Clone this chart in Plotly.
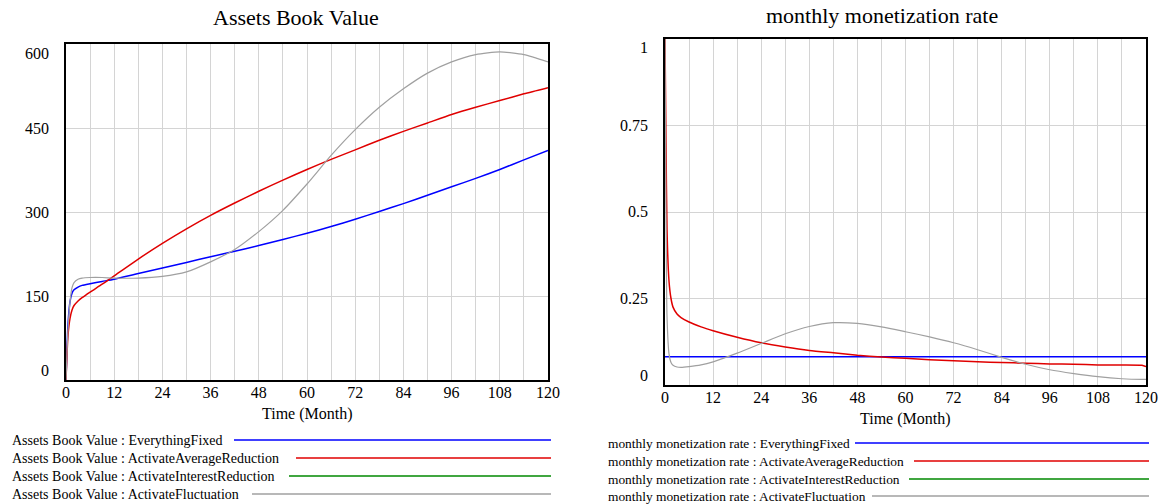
import plotly.graph_objects as go

W, H = 1166, 504
FONT = "Liberation Serif, Times New Roman, serif"

# ---------------- data ----------------
months_a = [0, 0.5, 1, 1.5, 2, 3, 4, 6, 9, 12, 18, 24, 30, 36, 42, 48, 54, 60,
            66, 72, 78, 84, 90, 96, 102, 108, 114, 120]
abv_fixed = [0, 100, 140, 155, 161, 166, 169, 172, 176, 180, 190, 200, 210, 220,
             230, 240, 251, 262, 274, 287, 301, 315, 330, 345, 360, 376, 393, 410]
abv_avg_red = [0, 80, 110, 125, 133, 141, 147, 157, 171, 186, 216, 244, 270, 294,
               316, 337, 357, 376, 394, 411, 428, 444, 459, 474, 487, 499, 511, 522]
abv_fluct = [0, 90, 140, 165, 174, 180, 182, 183, 183, 182, 182, 185, 193, 211,
             233, 265, 303, 350, 401, 447, 487, 520, 548, 568, 581, 586, 581, 568]

months_r = [0, 0.25, 0.5, 1, 1.5, 2, 3, 4, 6, 9, 12, 18, 24, 30, 36, 42, 48, 54,
            60, 66, 72, 78, 84, 90, 96, 102, 108, 114, 119, 120]
mmr_fixed = [0.082] * len(months_r)
mmr_avg_red = [1, 0.7, 0.45, 0.3, 0.25, 0.225, 0.205, 0.195, 0.182, 0.168, 0.157,
               0.138, 0.122, 0.11, 0.1, 0.093, 0.086, 0.081, 0.077, 0.073, 0.07,
               0.067, 0.065, 0.063, 0.061, 0.06, 0.058, 0.058, 0.057, 0.053]
mmr_fluct = [1, 0.5, 0.2, 0.09, 0.065, 0.057, 0.052, 0.051, 0.053, 0.058, 0.067,
             0.092, 0.12, 0.148, 0.169, 0.18, 0.178, 0.168, 0.154, 0.139, 0.122,
             0.102, 0.08, 0.06, 0.044, 0.033, 0.024, 0.018, 0.016, 0.016]

scenarios = ["EverythingFixed", "ActivateAverageReduction",
             "ActivateInterestReduction", "ActivateFluctuation"]
colors = ["#0000ff", "#e00000", "#008800", "#a0a0a0"]
x_ticks = list(range(0, 121, 12))
left_yticks = [0, 150, 300, 450, 600]
right_yticks = [0, 0.25, 0.5, 0.75, 1]
right_ytext = ["0", "0.25", "0.5", "0.75", "1"]
left_title = "Assets Book Value"
right_title = "monthly monetization rate"
x_title = "Time (Month)"


def px(x):
    return x / W


def py(y):
    return 1 - y / H


fig = go.Figure()


def add_line(x, y, color, width, xa, ya):
    fig.add_trace(go.Scatter(x=x, y=y, mode="lines", xaxis=xa, yaxis=ya,
                             line=dict(color=color, width=width, shape="spline",
                                       smoothing=0.6)))


# left chart
add_line(months_a, abv_fixed, colors[0], 1.5, "x", "y")
add_line(months_a, abv_avg_red, colors[1], 1.5, "x", "y")
add_line(months_a, abv_fluct, colors[3], 1.2, "x", "y")
# right chart
add_line(months_r, mmr_fixed, colors[0], 1.5, "x2", "y2")
add_line(months_r, mmr_avg_red, colors[1], 1.5, "x2", "y2")
add_line(months_r, mmr_fluct, colors[3], 1.2, "x2", "y2")

grid = "#d4d4d4"


def xaxis_cfg(dom, anchor):
    return dict(domain=dom, anchor=anchor, range=[0, 120], tickmode="array",
                tickvals=x_ticks, ticktext=[str(v) for v in x_ticks],
                showgrid=True, gridcolor=grid, gridwidth=1, zeroline=False,
                minor=dict(dtick=6, tick0=0, showgrid=True, gridcolor=grid, gridwidth=1),
                showline=True, linecolor="black", linewidth=2, mirror=True,
                ticks="", ticklabelstandoff=-3, automargin=False,
                tickfont=dict(family=FONT, size=16, color="black"))


def yaxis_cfg(dom, anchor, rng, vals):
    # tick labels are drawn as annotations (end labels tucked inside the frame, as in the original)
    return dict(domain=dom, anchor=anchor, range=rng, tickmode="array",
                tickvals=vals, ticktext=[""] * len(vals),
                showgrid=True, gridcolor=grid, gridwidth=1,
                zeroline=False, showline=True, linecolor="black", linewidth=2,
                mirror=True, ticks="", automargin=False)


fig.update_layout(
    width=W, height=H, margin=dict(l=0, r=0, t=0, b=0, autoexpand=False),
    paper_bgcolor="white", plot_bgcolor="white", showlegend=False,
    hovermode=False,
    xaxis=xaxis_cfg([px(66), px(548)], "y"),
    yaxis=yaxis_cfg([py(380), py(44)], "x", [0, 600], left_yticks),
    xaxis2=xaxis_cfg([px(665), px(1146)], "y2"),
    yaxis2=yaxis_cfg([py(385), py(39)], "x2", [0, 1], right_yticks),
)

ann = []
tick_font = dict(family=FONT, size=16, color="black")


def ytick_labels(vals, texts, xref, yref):
    n = len(vals)
    for k, (v, t) in enumerate(zip(vals, texts)):
        shift = 10 if k == 0 else (-9 if k == n - 1 else 0)
        ann.append(dict(text=t, x=0, y=v, xref=xref, yref=yref, showarrow=False,
                        xanchor="right", yanchor="middle", xshift=-15, yshift=shift,
                        font=tick_font))


ytick_labels(left_yticks, [str(v) for v in left_yticks], "x", "y")
ytick_labels(right_yticks, right_ytext, "x2", "y2")

ann.append(dict(text=left_title, x=px(296), y=py(18), xref="paper", yref="paper",
                showarrow=False, xanchor="center", yanchor="middle",
                font=dict(family=FONT, size=22, color="black")))
ann.append(dict(text=right_title, x=px(882), y=py(15), xref="paper", yref="paper",
                showarrow=False, xanchor="center", yanchor="middle",
                font=dict(family=FONT, size=22, color="black")))
ann.append(dict(text=x_title, x=px(307), y=py(414), xref="paper", yref="paper",
                showarrow=False, xanchor="center", yanchor="middle",
                font=dict(family=FONT, size=16, color="black")))
ann.append(dict(text=x_title, x=px(905), y=py(419), xref="paper", yref="paper",
                showarrow=False, xanchor="center", yanchor="middle",
                font=dict(family=FONT, size=16, color="black")))

shapes = []
left_rows = [440, 458, 476, 494]
left_line_start = [234, 296, 289, 252]
right_rows = [443, 461, 479, 496]
right_line_start = [855, 914, 909, 872]
for i, name in enumerate(scenarios):
    ann.append(dict(text=f"{left_title} : {name}", x=px(10), y=py(left_rows[i]),
                    xref="paper", yref="paper", showarrow=False, xanchor="left",
                    yanchor="middle", font=dict(family=FONT, size=14, color="black")))
    shapes.append(dict(type="line", xref="paper", yref="paper",
                       x0=px(left_line_start[i]), x1=px(551),
                       y0=py(left_rows[i]), y1=py(left_rows[i]),
                       line=dict(color=colors[i], width=1.5)))
    ann.append(dict(text=f"{right_title} : {name}", x=px(606), y=py(right_rows[i]),
                    xref="paper", yref="paper", showarrow=False, xanchor="left",
                    yanchor="middle", font=dict(family=FONT, size=13.4, color="black")))
    shapes.append(dict(type="line", xref="paper", yref="paper",
                       x0=px(right_line_start[i]), x1=px(1149),
                       y0=py(right_rows[i]), y1=py(right_rows[i]),
                       line=dict(color=colors[i], width=1.5)))

fig.update_layout(annotations=ann, shapes=shapes)
# remove the browser's default 8px body margin so the figure fills the window exactly
fig.write_html("out.html", config={"displayModeBar": False},
               post_script="document.body.style.margin='0';")
